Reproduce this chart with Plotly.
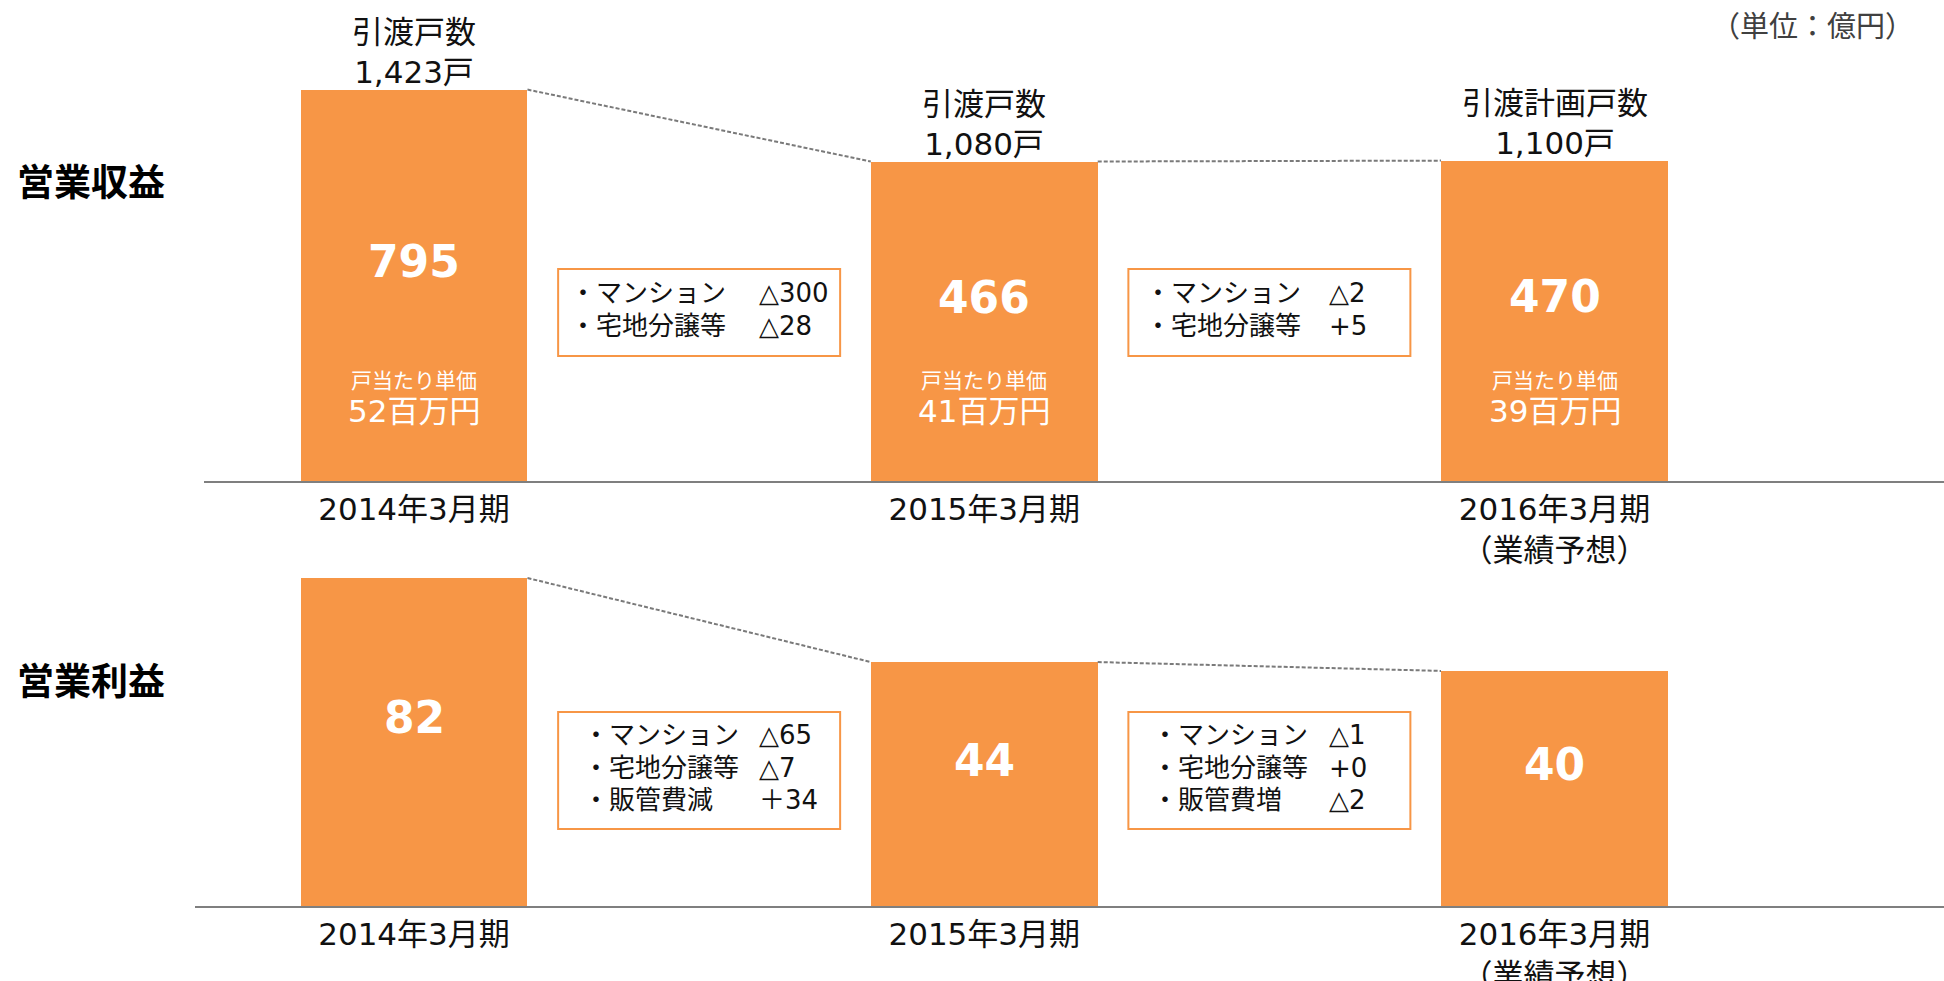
import plotly.graph_objects as go

# ---------------- data ----------------
periods = ["2014年3月期", "2015年3月期", "2016年3月期<br>（業績予想）"]
revenue = [795, 466, 470]          # 営業収益（億円）
profit = [82, 44, 40]              # 営業利益（億円）
units_caption = ["引渡戸数", "引渡戸数", "引渡計画戸数"]
units = [1423, 1080, 1100]         # 戸
unit_price = [52, 41, 39]          # 戸当たり単価（百万円）

rev_items = ["マンション", "宅地分譲等"]
rev_change_a = ["△300", "△28"]
rev_change_b = ["△2", "+5"]
op_items_a = ["マンション", "宅地分譲等", "販管費減"]
op_change_a = ["△65", "△7", "＋34"]
op_items_b = ["マンション", "宅地分譲等", "販管費増"]
op_change_b = ["△1", "+0", "△2"]

# ---------------- style ----------------
FONT = "DejaVu Sans, Noto Sans CJK JP, sans-serif"
CJK = "Noto Sans CJK JP, sans-serif"
ORANGE = "#F79646"
GRAY = "#7F7F7F"
BLACK = "#111111"
W, H = 1944, 981

rev_range = [-996, 1205]
op_range = [-66.24, 121.76]
bar_w = 0.398
px_per_unit = 570.25
xs = list(range(len(periods)))

fig = go.Figure()


def add_panel(values, yrange, xa, ya):
    fig.add_trace(go.Bar(
        x=xs, y=[v - yrange[0] for v in values], base=yrange[0], width=bar_w,
        marker=dict(color=ORANGE, line=dict(width=0)),
        customdata=values, hovertemplate="%{customdata}<extra></extra>",
        xaxis=xa, yaxis=ya, showlegend=False))
    for i in range(len(values) - 1):
        fig.add_trace(go.Scatter(
            x=[xs[i] + bar_w / 2, xs[i + 1] - bar_w / 2],
            y=[values[i], values[i + 1]], mode="lines",
            line=dict(color="#7a7a7a", width=2, dash="4px,2px"),
            hoverinfo="skip", xaxis=xa, yaxis=ya, showlegend=False))


add_panel(revenue, rev_range, "x", "y")
add_panel(profit, op_range, "x2", "y2")

ann = []
shapes = []

# value labels inside bars
for vals, yr, xr, yref in [(revenue, rev_range, "x", "y"), (profit, op_range, "x2", "y2")]:
    for i, v in enumerate(vals):
        ann.append(dict(x=xs[i], y=(v + yr[0]) / 2, xref=xr, yref=yref, text="<b>%d</b>" % v,
                        showarrow=False, yshift=24, yanchor="middle",
                        font=dict(family=FONT, size=44, color="white")))

# top-panel labels
for i, v in enumerate(revenue):
    ann.append(dict(x=xs[i], y=v, xref="x", yref="y",
                    text="%s<br>%s戸" % (units_caption[i], format(units[i], ",")),
                    showarrow=False, yanchor="bottom", yshift=-2,
                    font=dict(family=FONT, size=31, color=BLACK)))
    ann.append(dict(x=xs[i], y=0, xref="x", yref="y domain", text="戸当たり単価",
                    showarrow=False, yanchor="middle", yshift=100,
                    font=dict(family=FONT, size=21, color="white")))
    ann.append(dict(x=xs[i], y=0, xref="x", yref="y domain", text="%d百万円" % unit_price[i],
                    showarrow=False, yanchor="middle", yshift=70,
                    font=dict(family=FONT, size=31, color="white")))

# change boxes (between consecutive bars)
box_w_px = 282
box_half = box_w_px / 2 / px_per_unit
line_h = 32.5
val_off = 199


def add_box(xr, yref, pos, items, changes, yc, h_px, panel_px, item_off):
    cx = (xs[pos] + xs[pos + 1]) / 2
    dy = h_px / 2 / panel_px
    shapes.append(dict(type="rect", xref=xr, yref=yref, x0=cx - box_half, x1=cx + box_half,
                       y0=yc - dy, y1=yc + dy, line=dict(color=ORANGE, width=2),
                       fillcolor="white", layer="below"))
    n = len(items)
    for j, (it, ch) in enumerate(zip(items, changes)):
        ys = -((j - (n - 1) / 2) * line_h - 3)
        ann.append(dict(x=cx, y=yc, xref=xr, yref=yref, text="・" + it, showarrow=False,
                        xanchor="left", yanchor="middle", xshift=item_off - box_w_px / 2,
                        yshift=ys, font=dict(family=FONT, size=26, color=BLACK)))
        ann.append(dict(x=cx, y=yc, xref=xr, yref=yref, text=ch, showarrow=False,
                        xanchor="left", yanchor="middle", xshift=val_off - box_w_px / 2,
                        yshift=ys, font=dict(family=FONT, size=26, color=BLACK)))


add_box("x", "y domain", 0, rev_items, rev_change_a, 0.3503, 87, 481, 10)
add_box("x", "y domain", 1, rev_items, rev_change_b, 0.3503, 87, 481, 15)
add_box("x2", "y2 domain", 0, op_items_a, op_change_a, 0.3257, 117, 416, 23)
add_box("x2", "y2 domain", 1, op_items_b, op_change_b, 0.3257, 117, 416, 22)

# panel titles and unit note
ann.append(dict(x=15 / W, y=1 - 180 / H, xref="paper", yref="paper", text="<b>営業収益</b>",
                showarrow=False, xanchor="left", yanchor="middle",
                font=dict(family=CJK, size=37, color="black")))
ann.append(dict(x=15 / W, y=1 - 679 / H, xref="paper", yref="paper", text="<b>営業利益</b>",
                showarrow=False, xanchor="left", yanchor="middle",
                font=dict(family=CJK, size=37, color="black")))
ann.append(dict(x=1916 / W, y=1 - 24 / H, xref="paper", yref="paper", text="（単位：億円）",
                showarrow=False, xanchor="right", yanchor="middle",
                font=dict(family=CJK, size=29, color="#404040")))

xaxis_common = dict(tickvals=xs, ticktext=periods, showline=True, linecolor=GRAY, linewidth=2,
                    layer="below traces", showgrid=False, zeroline=False, ticks="",
                    tickfont=dict(family=FONT, size=31, color=BLACK), automargin=False,
                    fixedrange=True)

fig.update_layout(
    width=W, height=H, template="none",
    paper_bgcolor="white", plot_bgcolor="rgba(0,0,0,0)",
    margin=dict(l=0, r=0, t=0, b=0),
    showlegend=False, bargap=0,
    xaxis=dict(domain=[204 / W, 1], anchor="y",
               range=[(204 - 414) / px_per_unit, (W - 414) / px_per_unit], **xaxis_common),
    yaxis=dict(domain=[1 - 481 / H, 1], range=rev_range, visible=False, fixedrange=True),
    xaxis2=dict(domain=[195 / W, 1], anchor="y2",
                range=[(195 - 414) / px_per_unit, (W - 414) / px_per_unit], **xaxis_common),
    yaxis2=dict(domain=[1 - 906 / H, 1 - 490 / H], range=op_range, visible=False, fixedrange=True),
    annotations=ann, shapes=shapes,
)

fig.write_html("out.html", config={"displayModeBar": False},
               post_script="document.body.style.margin='0px';")
